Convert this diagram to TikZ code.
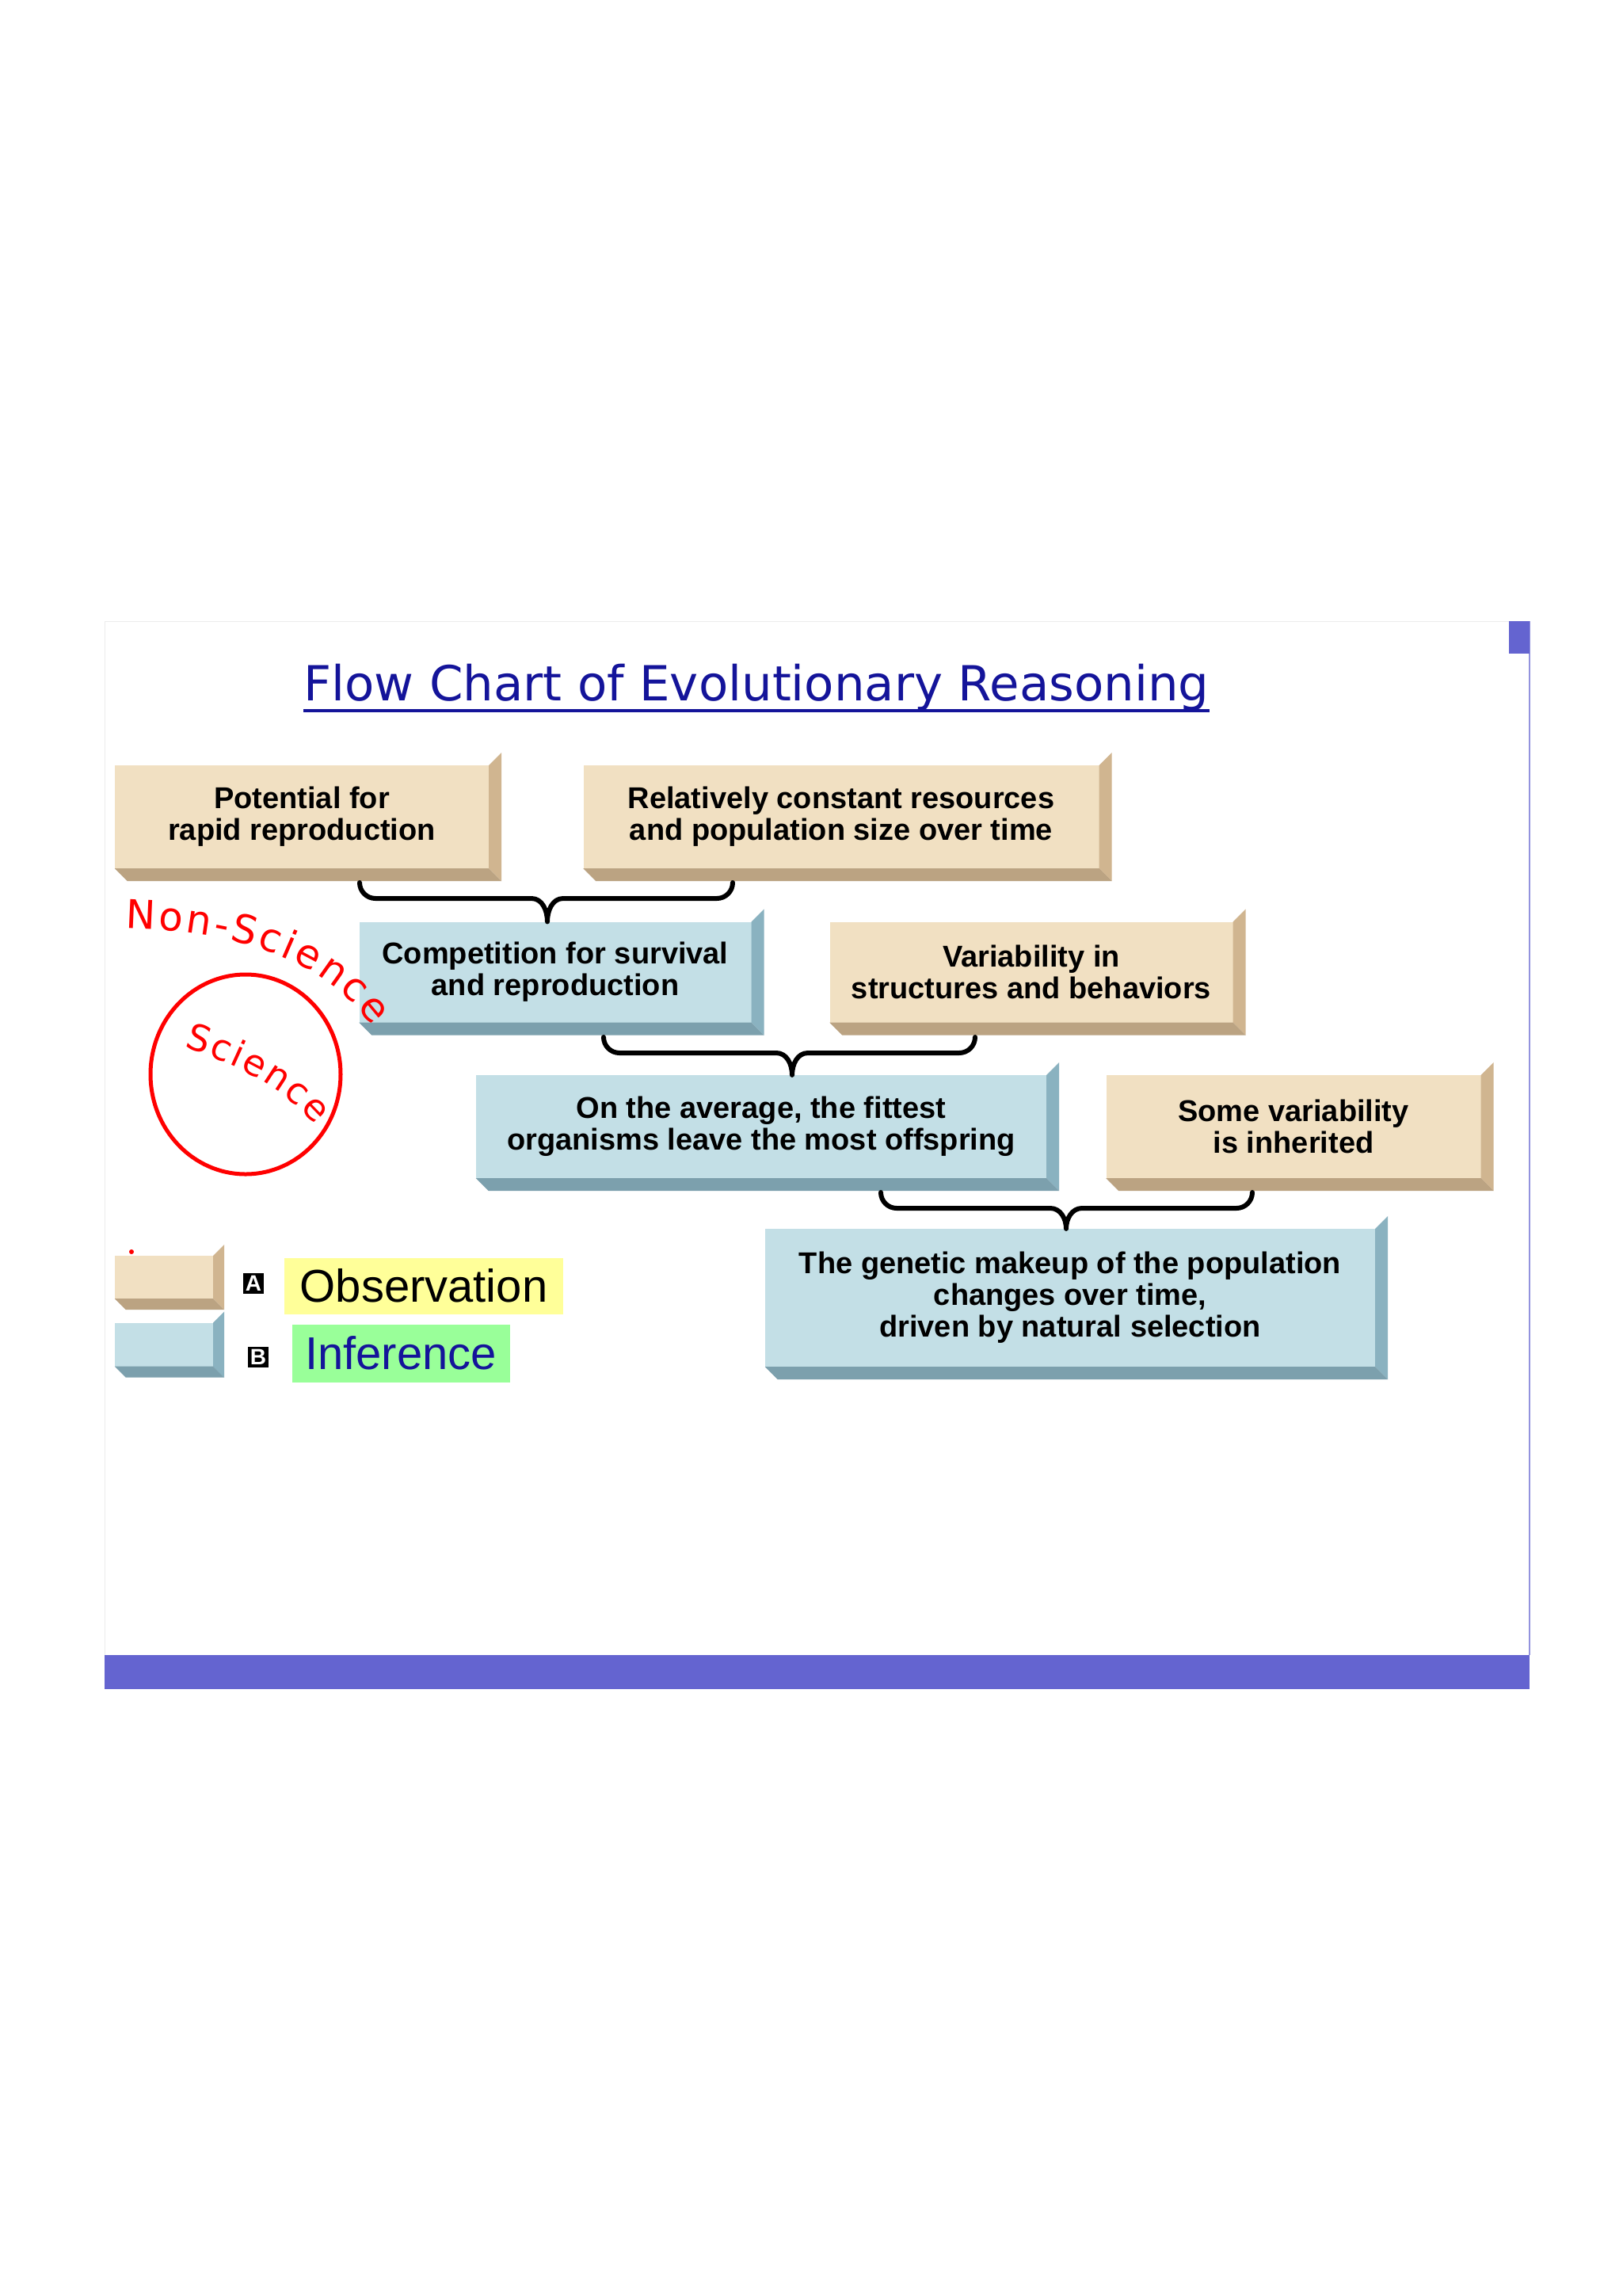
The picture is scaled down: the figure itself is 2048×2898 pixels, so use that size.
\documentclass[tikz,border=0pt]{standalone}
\usepackage{fontspec}
\setmainfont{Liberation Sans}
\newfontfamily\titlefont{DejaVu Sans}
\usetikzlibrary{calc,decorations.text}
\definecolor{tanF}{HTML}{F1E0C2}
\definecolor{tanS}{HTML}{D0B590}
\definecolor{bluF}{HTML}{C3DFE6}
\definecolor{bluS}{HTML}{8AB2C0}
\definecolor{slide}{HTML}{6464D0}
\definecolor{ttl}{HTML}{14149A}
\tikzset{
  face/.style={minimum height=130pt, inner sep=0pt, align=center,
    font=\fontsize{38}{40}\selectfont\bfseries},
  obsbox/.style={face, fill=tanF},
  infbox/.style={face, fill=bluF},
  brace/.style={line width=6pt, black, line cap=round, line join=round},
  tag/.style={fill=black, text=white, inner sep=3pt, font=\fontsize{28}{28}\selectfont\bfseries}
}
\newcommand{\sidefaces}[3]{% node, side colour, depth
  \fill[#2] (#1.north east) -- ++(#3,-#3) -- ($(#1.south east)+(#3,#3)$) -- (#1.south east) -- cycle;
  \fill[#2!90!black] (#1.south west) -- (#1.south east) -- ($(#1.south east)+(#3,#3)$) -- ($(#1.south west)+(#3,#3)$) -- cycle;
}
\begin{document}
\begin{tikzpicture}[x=1pt,y=-1pt]
\useasboundingbox (0,0) rectangle (2048,2898);
\fill[white] (0,0) rectangle (2048,2898);
% slide
\draw[gray!15] (132,784) -- (1931,784);
\draw[gray!15] (132,784) -- (132,2089);
\draw[slide!70, line width=1.5pt] (1931,784) -- (1931,2089);
\fill[slide] (132,2089) rectangle (1931,2132);
\fill[slide] (1905,784) rectangle (1931,825);
% title
\node[text=ttl, font=\titlefont\fontsize{61}{61}\selectfont, inner sep=0pt] (title) at (955,868)
  {Flow Chart of Evolutionary Reasoning};
\draw[ttl, line width=3.5pt] (title.base west) ++(0,12) -- ($(title.base east)+(0,12)$);
% boxes
\node[obsbox, minimum width=472pt] (b1) at (381,1031) {Potential for\\rapid reproduction};
\node[obsbox, minimum width=651pt] (b2) at (1062,1031) {Relatively constant resources\\and population size over time};
\node[infbox, minimum width=495pt, minimum height=127pt] (b3) at (701,1227) {Competition for survival\\and reproduction};
\node[obsbox, minimum width=509pt, minimum height=127pt] (b4) at (1302,1227) {Variability in\\structures and behaviors};
\node[infbox, minimum width=720pt] (b5) at (961,1422) {On the average, the fittest\\organisms leave the most offspring};
\node[obsbox, minimum width=473pt] (b6) at (1633,1422) {Some variability\\is inherited};
\node[infbox, minimum width=770pt, minimum height=174pt] (b7) at (1351,1638) {The genetic makeup of the population\\changes over time,\\driven by natural selection};
\foreach \n/\c in {b1/tanS,b2/tanS,b4/tanS,b6/tanS}{\sidefaces{\n}{\c}{16}}
\foreach \n/\c in {b3/bluS,b5/bluS,b7/bluS}{\sidefaces{\n}{\c}{16}}
% braces
\coordinate (t1) at (b3.north -| 691,0);
\draw[brace] (454,1114) to[out=-90,in=180] (474,1134) -- (671,1134) to[out=0,in=90] (t1)
  (t1) to[out=90,in=180] (711,1134) -- (905,1134) to[out=0,in=-90] (925,1114);
\coordinate (t2) at (b5.north -| 1000,0);
\draw[brace] (762,1309) to[out=-90,in=180] (782,1329) -- (980,1329) to[out=0,in=90] (t2)
  (t2) to[out=90,in=180] (1020,1329) -- (1211,1329) to[out=0,in=-90] (1231,1309);
\coordinate (t3) at (b7.north -| 1346,0);
\draw[brace] (1112,1505) to[out=-90,in=180] (1132,1525) -- (1326,1525) to[out=0,in=90] (t3)
  (t3) to[out=90,in=180] (1366,1525) -- (1561,1525) to[out=0,in=-90] (1581,1505);
% legend
\node[obsbox, minimum width=124pt, minimum height=54pt] (lo) at (207,1612) {};
\node[infbox, minimum width=124pt, minimum height=55pt] (li) at (207,1697) {};
\sidefaces{lo}{tanS}{14}
\sidefaces{li}{bluS}{14}
\node[tag] (ta) at (320,1620) {A};
\node[tag] (tb) at (326,1713) {B};
\node[fill={rgb,255:red,255;green,255;blue,153}, minimum width=352pt, minimum height=71pt, inner sep=0pt,
  font=\fontsize{58}{58}\selectfont] (obs) at (535,1623) {Observation};
\node[fill={rgb,255:red,153;green,255;blue,153}, text=ttl, minimum width=275pt, minimum height=73pt, inner sep=0pt,
  font=\fontsize{58}{58}\selectfont] (inf) at (506,1708) {Inference};
\fill[red] (166,1580) circle (3);
% handwriting
\path[decorate, decoration={text along path, text align=fit to path,
  text={|\titlefont\fontsize{50}{50}\selectfont\color{red}|Non-Science}}]
  (158,1172) .. controls (280,1175) and (400,1200) .. (470,1295);
\draw[red, line width=5pt] (310,1356) ellipse [x radius=120, y radius=126];
\path[decorate, decoration={text along path, text align=fit to path,
  text={|\titlefont\fontsize{46}{46}\selectfont\color{red}|Science}}]
  (232,1322) .. controls (295,1342) and (355,1370) .. (398,1420);
\end{tikzpicture}
\end{document}
